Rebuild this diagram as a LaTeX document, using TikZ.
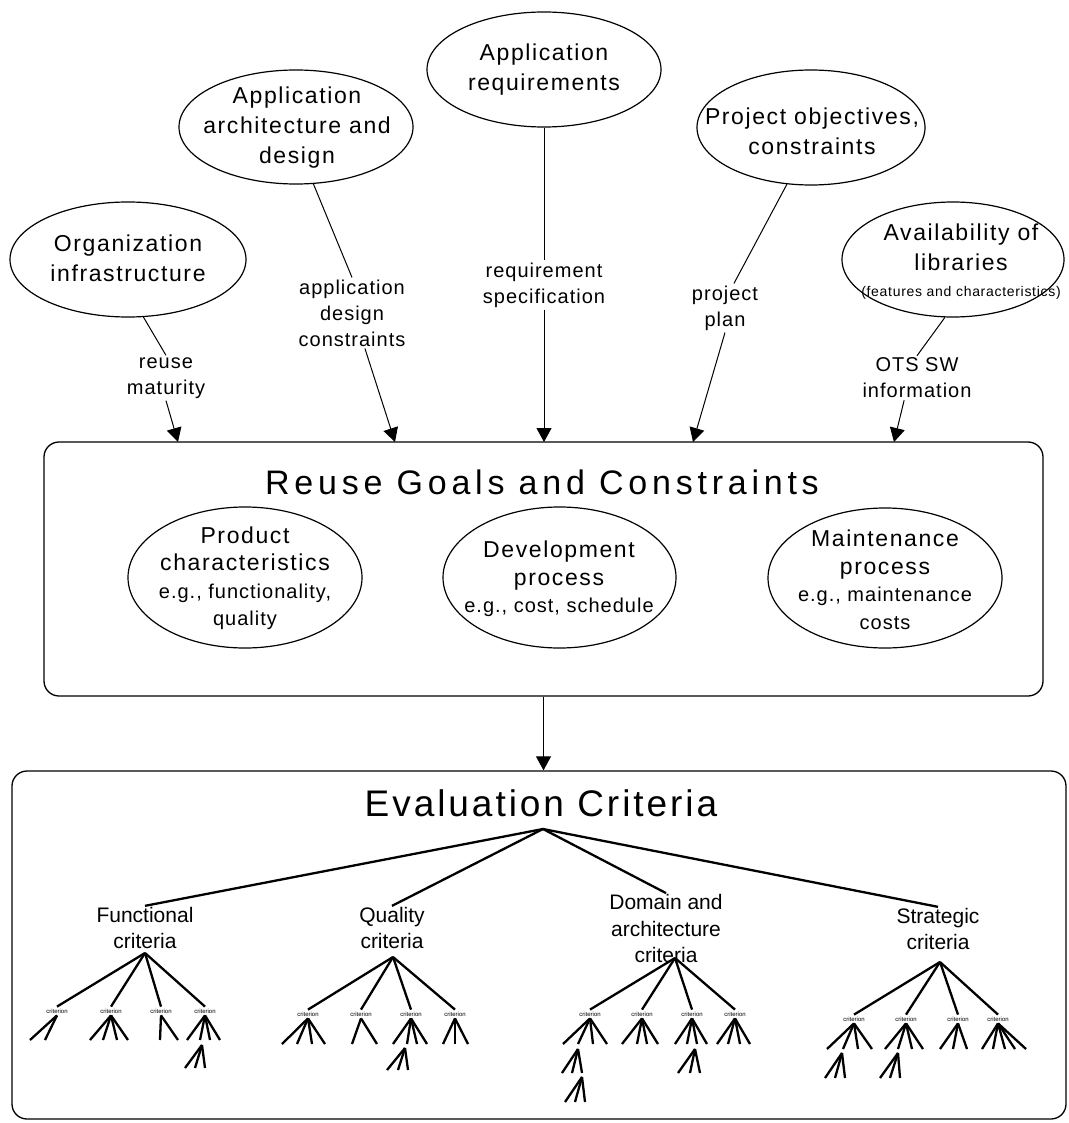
\documentclass[tikz,border=0pt]{standalone}
\usepackage{fontspec}
\setmainfont{Liberation Sans}
\newfontfamily\lsA{Liberation Sans}[LetterSpace=7]
\newfontfamily\lsB{Liberation Sans}[LetterSpace=5]
\newfontfamily\lsT{Liberation Sans}[LetterSpace=14]
\newfontfamily\lsE{Liberation Sans}[LetterSpace=8]
\usetikzlibrary{shapes.geometric,arrows.meta}
\begin{document}
\begin{tikzpicture}[x=1pt,y=-1pt,
  ell/.style={draw, ellipse, inner sep=0pt, line width=1.2pt},
  etxt/.style={align=center, inner sep=0pt, font=\lsA\fontsize{23}{30}\selectfont},
  itxt/.style={align=center, inner sep=0pt, font=\lsA\fontsize{23}{27.5}\selectfont},
  lab/.style={align=center, inner sep=2pt, font=\lsB\fontsize{20}{26}\selectfont},
  conn/.style={line width=1pt},
  arr/.style={line width=1pt, -{Triangle[length=14pt,width=15pt]}},
  panel/.style={draw, rounded corners=15pt, line width=1.3pt, inner sep=0pt},
  tree/.style={line width=2.3pt},
  crit/.style={inner sep=2pt, font=\fontsize{6}{7}\selectfont},
  cat/.style={align=center, inner sep=1pt, font=\fontsize{21}{26.5}\selectfont}
]
\useasboundingbox (0,0) rectangle (1068,1123);

% ---------- top ellipses ----------
\node[ell, minimum width=236, minimum height=115] (orgE) at (128,259.5) {};
\node[etxt] (org) at (128,258) {Organization\\infrastructure};
\node[ell, minimum width=234, minimum height=114] (archE) at (296,127) {};
\node[etxt] (arch) at (297,128) {Application\\architecture and\\design};
\node[ell, minimum width=234, minimum height=115] (reqE) at (544,69.5) {};
\node[etxt] (req) at (544,70) {Application\\requirements};
\node[ell, minimum width=228, minimum height=115] (projE) at (811,127.5) {};
\node[etxt] (proj) at (812,131) {Project objectives,\\constraints};
\node[ell, minimum width=222, minimum height=115] (availE) at (953,259.5) {};
\node[etxt] (avail) at (961,262) {Availability of\\libraries\\[-4pt]{\lsB\fontsize{14}{16}\selectfont (features and characteristics)}};

% ---------- flow labels ----------
\node[lab] (rm) at (166,378) {reuse\\maturity};
\node[lab] (adc) at (352,313) {application\\design\\constraints};
\node[lab] (rs) at (544,285) {requirement\\specification};
\node[lab] (pp) at (725,308) {project\\plan};
\node[lab] (ots) at (917,378) {OTS SW\\information};

% ---------- reuse goals panel ----------
\node[panel, minimum width=999, minimum height=254] (reuse) at (543.5,569) {};
\node[inner sep=0pt, font=\lsT\fontsize{34}{40}\selectfont] (rtitle) at (542,482) {Reuse Goals and Constraints};
\coordinate (in1) at (178,442);
\coordinate (in2) at (395,442);
\coordinate (in3) at (544,442);
\coordinate (in4) at (693,442);
\coordinate (in5) at (894,442);

\node[ell, minimum width=234, minimum height=141] (prodE) at (245,577.5) {};
\node[itxt] (prod) at (245,578) {Product\\characteristics\\{\lsB\fontsize{20}{24}\selectfont e.g., functionality,}\\{\lsB\fontsize{20}{24}\selectfont quality}};
\node[ell, minimum width=233, minimum height=141] (devE) at (559.5,577.5) {};
\node[itxt] (dev) at (559,579) {Development\\process\\{\lsB\fontsize{20}{24}\selectfont e.g., cost, schedule}};
\node[ell, minimum width=234, minimum height=140] (maintE) at (885,578) {};
\node[itxt] (maint) at (885,580) {Maintenance\\process\\{\lsB\fontsize{20}{24}\selectfont e.g., maintenance}\\{\lsB\fontsize{20}{24}\selectfont costs}};

% connectors into the panel
\draw[conn] (orgE.-75) -- (rm.north);
\draw[arr] (rm.south) -- (in1);
\draw[conn] (archE.-73) -- (adc.north);
\draw[arr] (adc.-70) -- (in2);
\draw[conn] (reqE.south) -- (rs.north);
\draw[arr] (rs.south) -- (in3);
\draw[conn] (projE.-113) -- (pp.70);
\draw[arr] (pp.south) -- (in4);
\draw[conn] (availE.-98) -- (ots.north);
\draw[arr] (ots.-120) -- (in5);

% ---------- evaluation criteria panel ----------
\node[panel, minimum width=1054, minimum height=348] (eval) at (539,945) {};
\draw[arr] (reuse.south) -- (reuse.south |- eval.north);
\node[inner sep=0pt, font=\lsE\fontsize{37}{42}\selectfont] (etitle) at (541,803) {Evaluation Criteria};
\coordinate (root) at (543,829);

\node[cat] (fcat) at (145,928) {Functional\\criteria};
\node[cat] (qcat) at (392,928) {Quality\\criteria};
\node[cat] (dcat) at (666,928.5) {Domain and\\architecture\\criteria};
\node[cat] (scat) at (938,929) {Strategic\\criteria};
\foreach \c in {fcat,qcat,dcat,scat} \draw[tree] (root) -- (\c.north);

\coordinate (fsub) at (145,953);
\coordinate (qsub) at (393,957);
\coordinate (dsub) at (675,958);
\coordinate (ssub) at (940,962);

% criterion labels
\node[crit] (f1) at (57,1011) {criterion};
\node[crit] (f2) at (111,1011) {criterion};
\node[crit] (f3) at (161,1011) {criterion};
\node[crit] (f4) at (205,1011) {criterion};
\node[crit] (q1) at (308,1014) {criterion};
\node[crit] (q2) at (361,1014) {criterion};
\node[crit] (q3) at (411,1014) {criterion};
\node[crit] (q4) at (455,1014) {criterion};
\node[crit] (d1) at (590,1014) {criterion};
\node[crit] (d2) at (642,1014) {criterion};
\node[crit] (d3) at (692,1014) {criterion};
\node[crit] (d4) at (735,1014) {criterion};
\node[crit] (s1) at (854,1019) {criterion};
\node[crit] (s2) at (906,1019) {criterion};
\node[crit] (s3) at (958,1019) {criterion};
\node[crit] (s4) at (998,1019) {criterion};

\foreach \i in {1,2,3,4} {
  \draw[tree] (fsub) -- (f\i.north);
  \draw[tree] (qsub) -- (q\i.north);
  \draw[tree] (dsub) -- (d\i.north);
  \draw[tree] (ssub) -- (s\i.north);
}

% grandchildren fans
\foreach \x in {30,45} \draw[tree] (f1.south) -- (\x,1040);
\foreach \x in {90,103,117,128} \draw[tree] (f2.south) -- (\x,1040);
\foreach \x in {160,178} \draw[tree] (f3.south) -- (\x,1040);
\foreach \x in {187,200,210,220} \draw[tree] (f4.south) -- (\x,1040);
\coordinate (fg) at (202,1045);
\foreach \x in {185,195,205} \draw[tree] (fg) -- (\x,1068);

\foreach \x in {282,297,312,325} \draw[tree] (q1.south) -- (\x,1044);
\foreach \x in {352,377} \draw[tree] (q2.south) -- (\x,1044);
\foreach \x in {393,407,417,427} \draw[tree] (q3.south) -- (\x,1044);
\foreach \x in {443,455,468} \draw[tree] (q4.south) -- (\x,1044);
\coordinate (qg) at (405,1048);
\foreach \x in {387,398,408} \draw[tree] (qg) -- (\x,1070);

\foreach \x in {563,578,593,607} \draw[tree] (d1.south) -- (\x,1044);
\foreach \x in {622,637,647,658} \draw[tree] (d2.south) -- (\x,1044);
\foreach \x in {675,687,697,707} \draw[tree] (d3.south) -- (\x,1044);
\foreach \x in {717,728,740,750} \draw[tree] (d4.south) -- (\x,1044);
\coordinate (dg1) at (578,1049);
\foreach \x in {562,572,582} \draw[tree] (dg1) -- (\x,1073);
\coordinate (dg2) at (582,1077);
\foreach \x in {565,575,585} \draw[tree] (dg2) -- (\x,1102);
\coordinate (dg3) at (695,1049);
\foreach \x in {678,690,700} \draw[tree] (dg3) -- (\x,1073);

\foreach \x in {827,843,858,872} \draw[tree] (s1.south) -- (\x,1049);
\foreach \x in {885,898,912,923} \draw[tree] (s2.south) -- (\x,1049);
\foreach \x in {940,953,967} \draw[tree] (s3.south) -- (\x,1049);
\foreach \x in {982,993,1005,1015,1026} \draw[tree] (s4.south) -- (\x,1049);
\coordinate (sg1) at (842,1053);
\foreach \x in {825,835,845} \draw[tree] (sg1) -- (\x,1078);
\coordinate (sg2) at (898,1053);
\foreach \x in {880,890,900} \draw[tree] (sg2) -- (\x,1078);
\end{tikzpicture}
\end{document}
